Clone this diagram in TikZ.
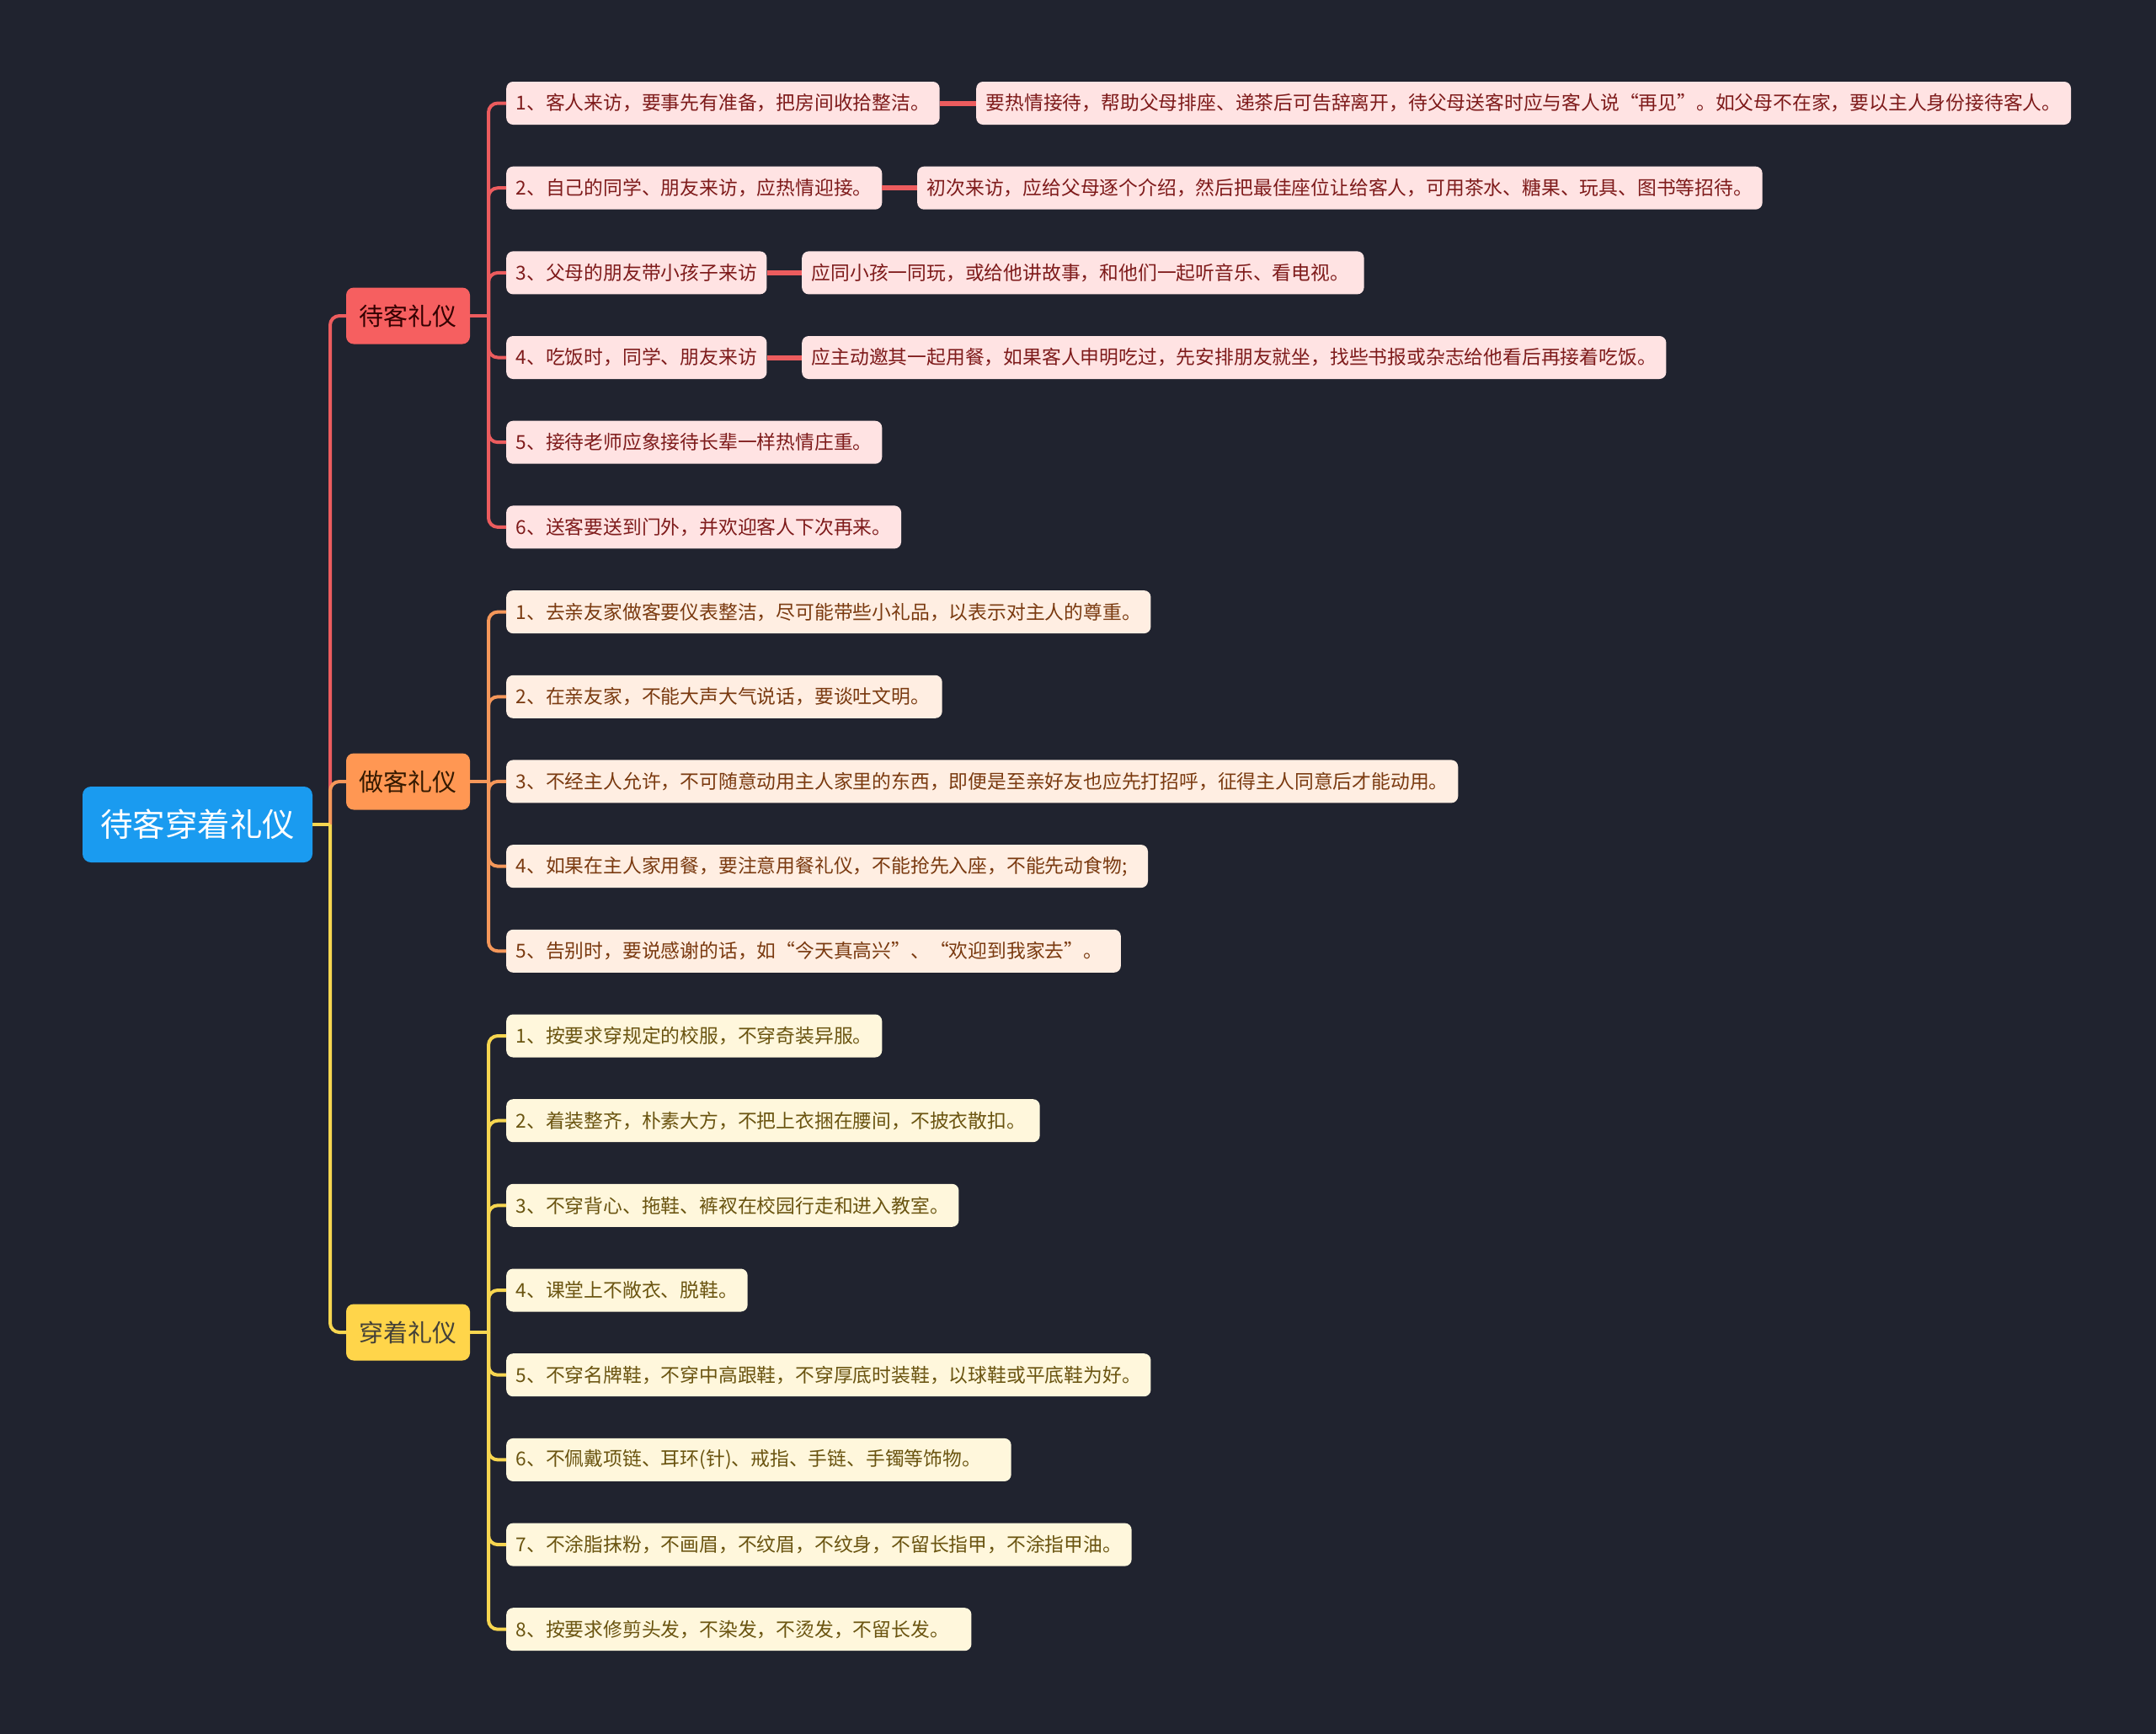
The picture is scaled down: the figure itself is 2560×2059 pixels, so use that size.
\documentclass[tikz,border=0pt]{standalone}
\usepackage{fontspec}
\setmainfont{Noto Sans CJK SC}
\definecolor{bg}{HTML}{20232F}
\definecolor{rootfill}{HTML}{1A9BF0}
\definecolor{rline}{HTML}{EC5C5E}
\definecolor{oline}{HTML}{F5975A}
\definecolor{yline}{HTML}{F7D650}
\definecolor{rbr}{HTML}{F65F60}
\definecolor{obr}{HTML}{FF9753}
\definecolor{ybr}{HTML}{FFD54A}
\definecolor{rleaf}{HTML}{FFE3E3}
\definecolor{oleaf}{HTML}{FFEEE2}
\definecolor{yleaf}{HTML}{FFF7DC}
\definecolor{rtext}{HTML}{7E1B1B}
\definecolor{otext}{HTML}{7A3A10}
\definecolor{ytext}{HTML}{6A5410}
\newcommand{\padr}[1]{\rule{#1}{0pt}}
\begin{document}
\begin{tikzpicture}[x=1pt,y=-1pt,
  leaf/.style={anchor=west, rounded corners=8pt, minimum height=51pt, inner xsep=11.5pt, inner ysep=0pt, font=\fontsize{22.8}{26}\selectfont},
  rl/.style={leaf, fill=rleaf, text=rtext},
  ol/.style={leaf, fill=oleaf, text=otext},
  yl/.style={leaf, fill=yleaf, text=ytext},
  branch/.style={rounded corners=9pt, minimum width=147pt, minimum height=67pt, inner sep=0pt, font=\fontsize{29}{32}\selectfont},
  lr/.style={draw=rline, line width=4pt},
  lo/.style={draw=oline, line width=4pt},
  ly/.style={draw=yline, line width=4pt},
  rc/.style={rounded corners=11pt}
]
\fill[bg] (0,0) rectangle (2560,2059);
\useasboundingbox (0,0) rectangle (2560,2059);

% root and branches
\node[fill=rootfill, text=white, rounded corners=10pt, minimum width=273pt, minimum height=90pt, inner sep=0pt, font=\fontsize{38.5}{42}\selectfont] (root) at (234.5,979) {待客穿着礼仪};
\node[branch, fill=rbr, text=black!80!red] (b1) at (484.5,375) {待客礼仪};
\node[branch, fill=obr, text=black!80!orange] (b2) at (484.5,928) {做客礼仪};
\node[branch, fill=ybr, text=black!85!yellow] (b3) at (484.5,1582) {穿着礼仪};

\coordinate (j0) at (392,979);
\coordinate (j1) at (580,375);
\coordinate (j2) at (580,928);
\coordinate (j3) at (580,1582);

% leaves: branch 1
\node[rl] (l1) at (601,122.5) {1、客人来访，要事先有准备，把房间收拾整洁。};
\node[rl] (l2) at (601,223.2) {2、自己的同学、朋友来访，应热情迎接。};
\node[rl] (l3) at (601,323.9) {3、父母的朋友带小孩子来访};
\node[rl] (l4) at (601,424.5) {4、吃饭时，同学、朋友来访};
\node[rl] (l5) at (601,525.2) {5、接待老师应象接待长辈一样热情庄重。};
\node[rl] (l6) at (601,625.9) {6、送客要送到门外，并欢迎客人下次再来。};
\node[rl] (d1) at (1159,122.5) {要热情接待，帮助父母排座、递茶后可告辞离开，待父母送客时应与客人说“再见”。如父母不在家，要以主人身份接待客人。};
\node[rl] (d2) at (1089,223.2) {初次来访，应给父母逐个介绍，然后把最佳座位让给客人，可用茶水、糖果、玩具、图书等招待。};
\node[rl] (d3) at (952,323.9) {应同小孩一同玩，或给他讲故事，和他们一起听音乐、看电视。\padr{6pt}};
\node[rl] (d4) at (952,424.5) {应主动邀其一起用餐，如果客人申明吃过，先安排朋友就坐，找些书报或杂志给他看后再接着吃饭。};

% leaves: branch 2
\node[ol] (m1) at (601,726.6) {1、去亲友家做客要仪表整洁，尽可能带些小礼品，以表示对主人的尊重。};
\node[ol] (m2) at (601,827.3) {2、在亲友家，不能大声大气说话，要谈吐文明。\padr{3pt}};
\node[ol] (m3) at (601,927.9) {3、不经主人允许，不可随意动用主人家里的东西，即便是至亲好友也应先打招呼，征得主人同意后才能动用。};
\node[ol] (m4) at (601,1028.6) {4、如果在主人家用餐，要注意用餐礼仪，不能抢先入座，不能先动食物;\padr{13pt}};
\node[ol] (m5) at (601,1129.3) {5、告别时，要说感谢的话，如“今天真高兴”、“欢迎到我家去”。\padr{10pt}};

% leaves: branch 3
\node[yl] (n1) at (601,1230.0) {1、按要求穿规定的校服，不穿奇装异服。};
\node[yl] (n2) at (601,1330.7) {2、着装整齐，朴素大方，不把上衣捆在腰间，不披衣散扣。\padr{5pt}};
\node[yl] (n3) at (601,1431.3) {3、不穿背心、拖鞋、裤衩在校园行走和进入教室。};
\node[yl] (n4) at (601,1532.0) {4、课堂上不敞衣、脱鞋。};
\node[yl] (n5) at (601,1632.7) {5、不穿名牌鞋，不穿中高跟鞋，不穿厚底时装鞋，以球鞋或平底鞋为好。};
\node[yl] (n6) at (601,1733.4) {6、不佩戴项链、耳环(针)、戒指、手链、手镯等饰物。\padr{24pt}};
\node[yl] (n7) at (601,1834.1) {7、不涂脂抹粉，不画眉，不纹眉，不纹身，不留长指甲，不涂指甲油。};
\node[yl] (n8) at (601,1934.7) {8、按要求修剪头发，不染发，不烫发，不留长发。\padr{15pt}};

% connectors root -> branches
\draw[lr, rc] (j0) |- (b1.west);
\draw[lo, rc] (j0) |- (b2.west);
\draw[ly, rc] (j0) |- (b3.west);
\draw[ly] (root.east) -- (j0);

% branch 1 -> leaves
\draw[lr] (b1.east) -- (j1);
\foreach \t in {l1,l2,l3,l4,l5,l6} \draw[lr, rc] (j1) |- (\t.west);
\draw[draw=rline, line width=6pt] (l1.east) -- (d1.west);
\draw[draw=rline, line width=6pt] (l2.east) -- (d2.west);
\draw[draw=rline, line width=6pt] (l3.east) -- (d3.west);
\draw[draw=rline, line width=6pt] (l4.east) -- (d4.west);

% branch 2 -> leaves
\draw[lo] (b2.east) -- (j2);
\foreach \t in {m1,m2,m3,m4,m5} \draw[lo, rc] (j2) |- (\t.west);

% branch 3 -> leaves
\draw[ly] (b3.east) -- (j3);
\foreach \t in {n1,n2,n3,n4,n5,n6,n7,n8} \draw[ly, rc] (j3) |- (\t.west);
\end{tikzpicture}
\end{document}
